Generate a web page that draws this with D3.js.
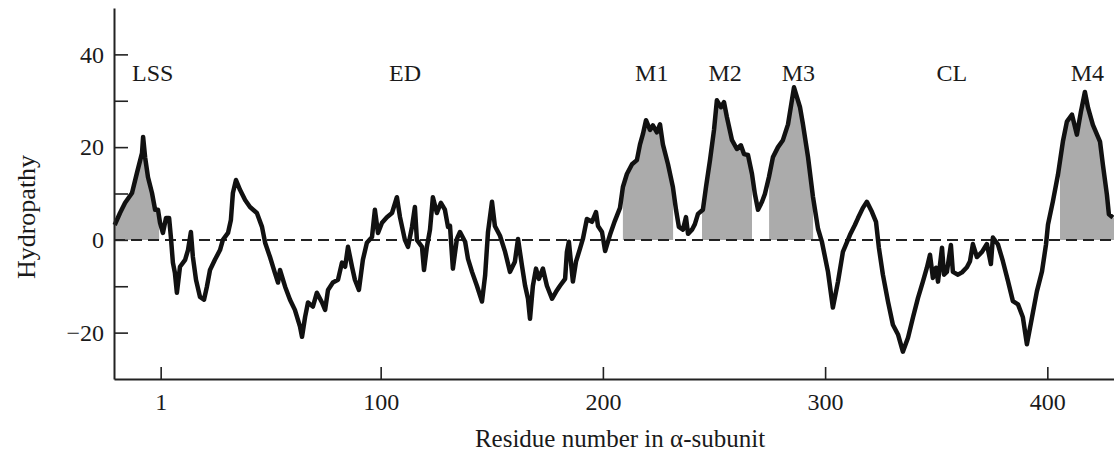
<!DOCTYPE html>
<html>
<head>
<meta charset="utf-8">
<script src="https://cdn.jsdelivr.net/npm/d3@7"></script>
<style>
  body { margin: 0; background: #fff; }
  svg text { font-family: "Liberation Serif", "Times New Roman", serif; fill: #1a1a1a; }
</style>
</head>
<body>
<svg id="chart" width="1114" height="455"></svg>
<script>
// hydropathy profile, [residue, value]
const profileLSS = [
  [-19.7,3.2],[-17.3,5.8],[-15.0,8.0],[-11.9,10.1],[-9.7,14.4],[-7.4,18.7],[-6.9,22.2],[-6.0,17.8],
  [-4.7,13.5],[-2.9,10.1],[-1.5,6.5],[-0.2,6.5],[0.7,3.7],[2.0,1.5],[3.4,4.7],[4.8,4.7],[5.6,0.6]
];
const profileED = [
  [6.5,-4.9],[7.4,-7.1],[8.3,-11.4],[9.7,-5.8],[12.0,-4.3],[13.3,-2.2],[14.6,1.7],[15.5,-3.7],
  [16.9,-8.6],[18.7,-12.3],[20.5,-12.9],[21.8,-10.1],[23.2,-6.5],[25.4,-4.3],[27.7,-2.2],[29.0,0],
  [31.3,1.5],[32.6,4.3],[33.5,10.1],[34.9,12.9],[36.7,10.8],[39.0,8.6],[41.2,7.1],[44.3,5.8],
  [46.6,2.8],[48.0,-0.6],[50.2,-3.7],[52.4,-7.1],[53.8,-9.2],[54.7,-6.5],[57.0,-10.1],[59.2,-12.9],
  [61.4,-15.1],[63.7,-18.7],[64.6,-20.9],[66.0,-16.6],[67.3,-13.5],[69.5,-14.4],[71.3,-11.4],[73.6,-13.5],
  [75.0,-15.1],[76.3,-10.8],[78.5,-9.2],[80.8,-8.6],[82.6,-4.9],[84.0,-5.8],[85.3,-1.5],[87.1,-5.8],
  [88.4,-8.6],[90.2,-10.8],[92.0,-4.3],[93.8,-0.6],[96.1,0.6],[97.4,6.5],[98.8,1.5],[100.6,3.7],
  [102.8,4.9],[105.1,5.8],[107.3,9.2],[108.7,4.9],[110.9,0],[112.3,-1.5],[114.1,2.8],[115.4,7.1],
  [116.3,0],[118.6,-1.5],[119.5,-6.5],[120.8,-1.5],[122.2,2.2],[123.5,9.2],[125.3,5.8],[127.1,8.0],
  [128.9,6.5],[130.3,2.8],[131.2,3.0],[132.5,-6.2],[134.3,0.2],[135.7,1.7],[138.0,-0.4],[139.3,-4.1],
  [141.1,-6.9],[143.3,-9.9],[145.6,-13.3],[147.0,-7.7],[148.3,1.7],[150.1,8.2],[151.4,3.0],[153.7,0.9],
  [156.0,-2.6],[158.2,-6.9],[160.4,-4.7],[161.8,0.2],[163.6,-5.6],[165.0,-9.9],[166.3,-12.7],[167.2,-17.0],
  [168.5,-9.9],[169.9,-6.2],[171.2,-8.4],[173.0,-6.2],[174.8,-9.9],[177.1,-12.7],[178.9,-11.2],[180.7,-9.9],
  [183.0,-8.4],[183.8,-2.6],[184.7,-0.4],[186.5,-9.0],[187.9,-4.7],[189.7,-1.9],[191.0,0.2],[192.8,4.5],
  [195.1,3.9],[196.9,6.0],[197.8,3.0],[199.6,1.7],[201.0,-2.4],[203.2,1.1],[205.4,4.1],[207.7,6.9]
];
const profileM1M3 = [
  [209.0,11.4],[210.8,14.2],[213.1,16.3],[215.3,17.2],[216.7,20.6],[218.0,22.8],[219.4,25.8],[221.2,23.7],
  [222.5,24.7],[224.3,23.2],[225.7,24.9],[227.0,20.6],[229.3,16.3],[231.5,11.4],[232.9,6.5],[234.2,2.8],
  [236.0,2.2],[237.4,4.9],[238.3,1.3],[240.1,2.2],[241.4,3.4],[242.8,5.6],[245.0,6.5],[246.4,11.4],
  [248.2,17.2],[250.0,23.7],[251.3,30.1],[253.1,28.6],[254.5,29.7],[255.8,26.5],[258.1,21.5],[260.3,19.6],
  [262.1,20.4],[263.5,18.5],[265.3,18.3],[267.1,14.2],[268.4,9.9],[269.8,6.5],[271.6,8.2],[272.9,9.9],
  [274.7,13.5],[276.5,17.8],[278.8,20.0],[281.0,21.5],[283.3,24.9],[286.0,32.9],[288.7,28.6],[290.0,25.0],
  [292.3,17.9],[294.5,9.4],[296.8,2.4],[298.6,-0.5]
];
const profileCL = [
  [301.3,-6.9],[303.5,-14.6],[305.8,-9.0],[308.0,-2.6],[311.2,1.1],[313.4,3.2],[314.8,4.7],[317.0,6.9],
  [318.8,8.2],[321.1,6.0],[322.9,3.9],[324.2,-1.7],[326.0,-7.5],[328.3,-13.3],[330.5,-18.3],[332.8,-20.4],
  [335.0,-24.1],[337.3,-21.1],[339.5,-16.8],[341.8,-12.5],[344.0,-9.0],[345.8,-6.0],[347.2,-3.2],[348.5,-8.2],
  [349.9,-6.0],[350.8,-9.0],[352.6,-1.7],[353.5,-7.5],[354.8,-6.9],[356.6,-1.1],[357.5,-6.9],[359.8,-7.5],
  [361.6,-7.0],[363.8,-5.9],[365.2,-4.6],[366.5,-0.9],[368.3,-3.7],[370.6,-2.6],[372.8,-0.9],[374.6,-5.2],
  [375.5,0.5],[377.8,-1.0],[380.0,-4.6],[382.3,-8.9],[384.5,-13.2],[386.8,-13.9],[389.0,-16.7],[390.8,-22.5],
  [393.1,-16.7],[395.3,-11.1],[397.6,-6.8],[399.4,-1.0]
];
const profileM4 = [
  [400.3,3.3],[402.5,8.3],[404.8,14.1],[407.0,21.2],[408.8,25.5],[411.1,27.0],[413.3,22.7],[415.1,27.6],
  [416.9,31.9],[418.3,28.5],[420.5,24.8],[423.7,21.2],[425.0,16.2],[426.8,9.8],[427.7,5.5],[429.5,4.8]
];

// shaded hydrophobic stretches (residue from, to)
const shadedRanges = [[-19.7, 0.3], [209.0, 231.6], [244.6, 267.1], [274.8, 294.6], [405.7, 430]];

// region names and the residue they sit over
const regionNames = ["LSS", "ED", "M1", "M2", "M3", "CL", "M4"];
const regionAt = [-2.6, 111, 222, 255, 288, 357, 418];

const xTicks = [1, 100, 200, 300, 400];
const yTicks = [-20, -10, 0, 10, 20, 30, 40];
const yLabelled = [-20, 0, 20, 40];

const profile = profileLSS.concat(profileED, profileM1M3, profileCL, profileM4);

let svg = d3.select("#chart");

let x = d3.scaleLinear().domain([-20, 430]).range([114, 1114]);
let y = d3.scaleLinear().domain([-30, 50]).range([379, 8]);

// value at a residue by linear interpolation between read points
function valueAt(r){
  for(let i=0; i<profile.length-1; i++){
    let a = profile[i], b = profile[i+1];
    if(r >= a[0] && r <= b[0]){
      let t = (r - a[0]) / (b[0] - a[0]);
      return a[1] + t*(b[1]-a[1]);
    }
  }
  return profile[profile.length-1][1];
}

let area = d3.area()
  .x(function(d){ return x(d[0]); })
  .y0(y(0))
  .y1(function(d){ return y(Math.max(d[1], 0)); });

shadedRanges.forEach(function(rg){
  let pts = [[rg[0], valueAt(rg[0])]];
  profile.forEach(function(d){ if(d[0] > rg[0] && d[0] < rg[1]) pts.push(d); });
  pts.push([rg[1], valueAt(rg[1])]);
  svg.append("path")
    .attr("d", area(pts))
    .attr("fill", "#ababab");
});

// zero line
svg.append("line")
  .attr("x1", x.range()[0]).attr("x2", x.range()[1])
  .attr("y1", y(0)).attr("y2", y(0))
  .attr("stroke", "#222")
  .attr("stroke-width", 2)
  .attr("stroke-dasharray", "11,6");

let line = d3.line()
  .x(function(d){ return x(d[0]); })
  .y(function(d){ return y(d[1]); });

svg.append("path")
  .datum(profile)
  .attr("d", line)
  .attr("fill", "none")
  .attr("stroke", "#111")
  .attr("stroke-width", 4.5)
  .attr("stroke-linejoin", "round");

// axes
let yAxis = svg.append("g")
  .attr("transform", "translate(" + x.range()[0] + ",0)")
  .call(d3.axisLeft(y)
    .tickValues(yTicks)
    .tickSize(-14)
    .tickSizeOuter(0)
    .tickPadding(10)
    .tickFormat(function(d){ return yLabelled.indexOf(d) >= 0 ? d3.format("")(d) : ""; }));

let xAxis = svg.append("g")
  .attr("transform", "translate(0," + y.range()[0] + ")")
  .call(d3.axisBottom(x)
    .tickValues(xTicks)
    .tickSize(-12)
    .tickSizeOuter(0)
    .tickPadding(14));

[yAxis, xAxis].forEach(function(g){
  g.select(".domain").attr("stroke", "#222").attr("stroke-width", 2);
  g.selectAll(".tick line").attr("stroke", "#222").attr("stroke-width", 1.6);
  g.selectAll(".tick text")
    .attr("fill", "#1a1a1a")
    .style("font-family", "'Liberation Serif', serif")
    .style("font-size", "24px");
});

// region labels
regionNames.forEach(function(name, i){
  svg.append("text")
    .attr("x", x(regionAt[i]))
    .attr("y", y(34.2))
    .attr("text-anchor", "middle")
    .style("font-size", "24px")
    .text(name);
});

svg.append("text")
  .attr("transform", "translate(35,217) rotate(-90)")
  .attr("text-anchor", "middle")
  .style("font-size", "26px")
  .text("Hydropathy");

svg.append("text")
  .attr("x", 620)
  .attr("y", 447)
  .attr("text-anchor", "middle")
  .style("font-size", "25px")
  .text("Residue number in α-subunit");
</script>
</body>
</html>
